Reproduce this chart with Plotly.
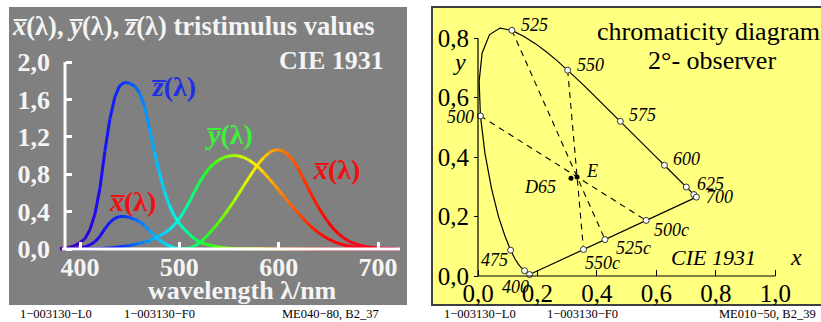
import numpy as np
import plotly.graph_objects as go

W, H = 821, 322
SERIF = "Liberation Serif"

# ---------------- data ----------------
wavelength = list(range(380, 725, 5))
x_bar = [0.001368, 0.002236, 0.004243, 0.007650, 0.014310, 0.023190, 0.043510, 0.077630,
         0.134380, 0.214770, 0.283900, 0.328500, 0.348280, 0.348060, 0.336200, 0.318700,
         0.290800, 0.251100, 0.195360, 0.142100, 0.095640, 0.057950, 0.032010, 0.014700,
         0.004900, 0.002400, 0.009300, 0.029100, 0.063270, 0.109600, 0.165500, 0.225750,
         0.290400, 0.359700, 0.433450, 0.512050, 0.594500, 0.678400, 0.762100, 0.842500,
         0.916300, 0.978600, 1.026300, 1.056700, 1.062200, 1.045600, 1.002600, 0.938400,
         0.854450, 0.751400, 0.642400, 0.541900, 0.447900, 0.360800, 0.283500, 0.218700,
         0.164900, 0.121200, 0.087400, 0.063600, 0.046770, 0.032900, 0.022700, 0.015840,
         0.011359, 0.008111, 0.005790, 0.004109, 0.002899]
y_bar = [0.000039, 0.000064, 0.000120, 0.000217, 0.000396, 0.000640, 0.001210, 0.002180,
         0.004000, 0.007300, 0.011600, 0.016840, 0.023000, 0.029800, 0.038000, 0.048000,
         0.060000, 0.073900, 0.090980, 0.112600, 0.139020, 0.169300, 0.208020, 0.258600,
         0.323000, 0.407300, 0.503000, 0.608200, 0.710000, 0.793200, 0.862000, 0.914850,
         0.954000, 0.980300, 0.994950, 1.000000, 0.995000, 0.978600, 0.952000, 0.915400,
         0.870000, 0.816300, 0.757000, 0.694900, 0.631000, 0.566800, 0.503000, 0.441200,
         0.381000, 0.321000, 0.265000, 0.217000, 0.175000, 0.138200, 0.107000, 0.081600,
         0.061000, 0.044580, 0.032000, 0.023200, 0.017000, 0.011920, 0.008210, 0.005723,
         0.004102, 0.002929, 0.002091, 0.001484, 0.001047]
z_bar = [0.006450, 0.010550, 0.020050, 0.036210, 0.067850, 0.110200, 0.207400, 0.371300,
         0.645600, 1.039050, 1.385600, 1.622960, 1.747060, 1.782600, 1.772110, 1.744100,
         1.669200, 1.528100, 1.287640, 1.041900, 0.812950, 0.616200, 0.465180, 0.353300,
         0.272000, 0.212300, 0.158200, 0.111700, 0.078250, 0.057250, 0.042160, 0.029840,
         0.020300, 0.013400, 0.008750, 0.005750, 0.003900, 0.002750, 0.002100, 0.001800,
         0.001650, 0.001400, 0.001100, 0.001000, 0.000800, 0.000600, 0.000340, 0.000240,
         0.000190, 0.000100, 0.000050, 0.000030, 0.000020, 0.000010, 0.0, 0.0,
         0.0, 0.0, 0.0, 0.0, 0.0, 0.0, 0.0, 0.0,
         0.0, 0.0, 0.0, 0.0, 0.0]

wl_ticks = [400, 500, 600, 700]
wl_ticklabels = ["400", "500", "600", "700"]
val_ticks = [0.0, 0.4, 0.8, 1.2, 1.6, 2.0]
val_ticklabels = ["0,0", "0,4", "0,8", "1,2", "1,6", "2,0"]
cx_ticks = [0.0, 0.2, 0.4, 0.6, 0.8, 1.0]
cx_ticklabels = ["0,0", "0,2", "0,4", "0,6", "0,8", "1,0"]
cy_ticks = [0.0, 0.2, 0.4, 0.6, 0.8]
cy_ticklabels = ["0,0", "0,2", "0,4", "0,6", "0,8"]

marked_wl = [400, 450, 475, 500, 525, 550, 575, 600, 625, 650, 700]
labelled_wl = [400, 475, 500, 525, 550, 575, 600, 625, 700]
complementary_wl = [500, 525, 550]
purple_ends = [400, 700]
white_E = [1 / 3, 1 / 3]
white_D65 = [0.3127, 0.3290]

footer_left = ["1\u2212003130\u2212L0", "1\u2212003130\u2212F0", "ME040\u221280, B2_37"]
footer_right = ["1\u2212003130\u2212L0", "1\u2212003130\u2212F0", "ME010\u221250, B2_39"]

# ---------------- layout geometry (pixels) ----------------
LP = dict(x0=9, x1=407, y0=7, y1=305)      # grey panel
RP = dict(x0=432, x1=821, y0=7, y1=305)    # yellow panel
L_XPX, L_XVAL, L_XPPU = 80, 400, 298 / 300  # 400 nm at px 80
L_YPX, L_YPPU = 249, 93.5                  # value 0 at px 249
R_XPX, R_YPX, R_PPU = 478, 276, 297.3      # (0,0) at px (478,276)

def px_x(p):
    return p / W

def px_y(p):
    return 1 - p / H

xr_left = [L_XVAL + (LP["x0"] - L_XPX) / L_XPPU, L_XVAL + (LP["x1"] - L_XPX) / L_XPPU]
yr_left = [(L_YPX - LP["y1"]) / L_YPPU, (L_YPX - LP["y0"]) / L_YPPU]
xr_right = [(RP["x0"] - R_XPX) / R_PPU, (RP["x1"] - R_XPX) / R_PPU]
yr_right = [(R_YPX - RP["y1"]) / R_PPU, (R_YPX - RP["y0"]) / R_PPU]

def wl_at_px(p):
    return L_XVAL + (p - L_XPX) / L_XPPU

# spectral colour map (style)
cm_wl = [380, 400, 420, 440, 460, 480, 495, 510, 530, 555, 575, 590, 605, 630, 650, 700, 720]
cm_r = [80, 50, 30, 10, 0, 0, 0, 0, 40, 160, 255, 255, 255, 255, 255, 255, 255]
cm_g = [0, 0, 10, 40, 120, 200, 245, 255, 255, 255, 245, 180, 120, 40, 0, 0, 0]
cm_b = [170, 210, 245, 255, 255, 255, 240, 140, 20, 0, 0, 0, 0, 0, 0, 40, 70]

def spec_color(w):
    r = int(np.interp(w, cm_wl, cm_r))
    g = int(np.interp(w, cm_wl, cm_g))
    b = int(np.interp(w, cm_wl, cm_b))
    return f"rgb({r},{g},{b})"

fig = go.Figure()

# ---------------- left: colour matching functions ----------------
wl = np.array(wavelength, dtype=float)
for curve in (z_bar, y_bar, x_bar):
    c = np.array(curve)
    for i in range(len(wl) - 1):
        fig.add_trace(go.Scatter(
            x=[wl[i], wl[i + 1]], y=[c[i], c[i + 1]], mode="lines",
            line=dict(color=spec_color((wl[i] + wl[i + 1]) / 2), width=3),
            hoverinfo="skip", showlegend=False, xaxis="x", yaxis="y"))

# ---------------- right: chromaticity diagram ----------------
X = np.array(x_bar); Y = np.array(y_bar); Z = np.array(z_bar)
S = X + Y + Z
cx = X / S
cy = Y / S
locus_mask = wl <= 700
fig.add_trace(go.Scatter(x=cx[locus_mask], y=cy[locus_mask], mode="lines",
                         line=dict(color="black", width=1.2), hoverinfo="skip",
                         showlegend=False, xaxis="x2", yaxis="y2"))
idx = {int(w): i for i, w in enumerate(wavelength)}
pa = np.array([cx[idx[purple_ends[0]]], cy[idx[purple_ends[0]]]])
pb = np.array([cx[idx[purple_ends[1]]], cy[idx[purple_ends[1]]]])
fig.add_trace(go.Scatter(x=[pa[0], pb[0]], y=[pa[1], pb[1]], mode="lines",
                         line=dict(color="black", width=1.2), hoverinfo="skip",
                         showlegend=False, xaxis="x2", yaxis="y2"))

E = np.array(white_E)
comp_pts = []
for w in complementary_wl:
    s = np.array([cx[idx[w]], cy[idx[w]]])
    d = E - s
    M = np.array([[d[0], -(pb - pa)[0]], [d[1], -(pb - pa)[1]]])
    t, u = np.linalg.solve(M, pa - s)
    q = s + t * d
    comp_pts.append(q)
    fig.add_trace(go.Scatter(x=[s[0], q[0]], y=[s[1], q[1]], mode="lines",
                             line=dict(color="black", width=1.1, dash="6px,5px"),
                             hoverinfo="skip", showlegend=False, xaxis="x2", yaxis="y2"))

mk_x = [cx[idx[w]] for w in marked_wl] + [q[0] for q in comp_pts]
mk_y = [cy[idx[w]] for w in marked_wl] + [q[1] for q in comp_pts]
fig.add_trace(go.Scatter(x=mk_x, y=mk_y, mode="markers",
                         marker=dict(size=6, color="white", line=dict(color="#333333", width=1)),
                         hoverinfo="skip", showlegend=False, xaxis="x2", yaxis="y2"))
fig.add_trace(go.Scatter(x=[white_E[0], white_D65[0]], y=[white_E[1], white_D65[1]], mode="markers",
                         marker=dict(size=5, color="black"),
                         hoverinfo="skip", showlegend=False, xaxis="x2", yaxis="y2"))

# ---------------- shapes ----------------
shapes = [
    dict(type="rect", xref="paper", yref="paper", x0=px_x(LP["x0"]), x1=px_x(LP["x1"]),
         y0=px_y(LP["y1"]), y1=px_y(LP["y0"]), fillcolor="#808080", line=dict(width=0), layer="below"),
    dict(type="rect", xref="paper", yref="paper", x0=px_x(RP["x0"]), x1=1.02,
         y0=px_y(RP["y1"]), y1=px_y(RP["y0"]), fillcolor="#ffff80",
         line=dict(color="#404040", width=2), layer="below"),
    dict(type="line", xref="x", yref="y", x0=wl_at_px(62), x1=wl_at_px(400), y0=0, y1=0,
         line=dict(color="white", width=3), layer="above"),
    dict(type="line", xref="x", yref="y", x0=wl_at_px(65), x1=wl_at_px(65), y0=0, y1=val_ticks[-1],
         line=dict(color="white", width=3), layer="above"),
    dict(type="line", xref="x2", yref="y2", x0=cx_ticks[0], x1=cx_ticks[-1], y0=0, y1=0,
         line=dict(color="black", width=1.2)),
    dict(type="line", xref="x2", yref="y2", x0=0, x1=0, y0=cy_ticks[0], y1=cy_ticks[-1],
         line=dict(color="black", width=1.2)),
]

# ---------------- annotations ----------------
ann = []

def txt(text, x, y, size, color="black", xanchor="center", yanchor="middle", bold=False,
        italic=False, xref="paper", yref="paper", xshift=0, yshift=0):
    ann.append(dict(text=text, x=x, y=y, xref=xref, yref=yref, xanchor=xanchor, yanchor=yanchor,
                    showarrow=False, xshift=xshift, yshift=yshift,
                    font=dict(family=SERIF, size=size, color=color,
                              weight="bold" if bold else "normal",
                              style="italic" if italic else "normal")))

OV = "\u0305"
WH = "#f4f4f4"
txt(f"<i>x{OV}</i>(λ), <i>y{OV}</i>(λ), <i>z{OV}</i>(λ) tristimulus values",
    px_x(10), px_y(26), 26.5, WH, xanchor="left", bold=True)
txt("CIE 1931", px_x(386), px_y(61), 26, WH, xanchor="right", bold=True)
txt("wavelength λ/nm", px_x(242), px_y(290), 26, WH, bold=True)

def lab(text, cxp, cyp, color):
    txt(text, wl_at_px(cxp), (L_YPX - cyp) / L_YPPU, 28, color, bold=True, xref="x", yref="y")

lab(f"<i>z{OV}</i>(λ)", 173, 86, "#1f2fe6")
lab(f"<i>y{OV}</i>(λ)", 229, 134, "#3cf03c")
lab(f"<i>x{OV}</i>(λ)", 132, 201, "#f01010")
lab(f"<i>x{OV}</i>(λ)", 336, 169, "#f01010")

txt("chromaticity diagram", px_x(708), px_y(31), 26)
txt("2°- observer", px_x(712), px_y(60), 26)

label_offsets = {400: ("right", 1, -12), 475: ("right", -1, -10), 500: ("right", -4, -1),
                 525: ("left", 7, 5), 550: ("left", 7, 5), 575: ("left", 7, 6),
                 600: ("left", 7, 6), 625: ("left", 9, 3), 700: ("left", 8, 0)}
for w in labelled_wl:
    xa, dx, dy = label_offsets[w]
    txt(str(w), cx[idx[w]], cy[idx[w]], 18, xanchor=xa, italic=True, xref="x2", yref="y2",
        xshift=dx, yshift=dy)
comp_offsets = [("left", 6, -10), ("left", 9, -8), ("left", -1, -13)]
for w, q, (xa, dx, dy) in zip(complementary_wl, comp_pts, comp_offsets):
    txt(f"{w}c", q[0], q[1], 18, xanchor=xa, italic=True, xref="x2", yref="y2",
        xshift=dx, yshift=dy)
txt("E", white_E[0], white_E[1], 18, xanchor="left", italic=True, xref="x2", yref="y2",
    xshift=7, yshift=6)
txt("D65", white_D65[0], white_D65[1], 18, xanchor="right", italic=True, xref="x2", yref="y2",
    xshift=-13, yshift=-9)
txt("CIE 1931", px_x(713), px_y(257), 22, italic=True)
txt("x", px_x(796), px_y(257), 24, italic=True)
txt("y", px_x(459), px_y(62), 24, italic=True)

for s, xp in zip(footer_left, [18, 122, 280]):
    txt(s, px_x(xp), px_y(314), 12.5, xanchor="left")
for s, xp in zip(footer_right, [442, 545, 717]):
    txt(s, px_x(xp), px_y(314), 12.5, xanchor="left")

# ---------------- axes ----------------
lfont = dict(family=SERIF, size=26, color=WH, weight="bold")
rfont = dict(family=SERIF, size=25, color="black")
fig.update_layout(
    width=W, height=H, margin=dict(l=0, r=0, t=0, b=0),
    paper_bgcolor="white", plot_bgcolor="rgba(0,0,0,0)",
    xaxis=dict(domain=[px_x(LP["x0"]), px_x(LP["x1"])], range=xr_left, anchor="free",
               position=px_y(L_YPX), tickvals=wl_ticks, ticktext=wl_ticklabels,
               ticks="inside", ticklen=7, tickwidth=3, tickcolor="white",
               showgrid=False, zeroline=False, showline=False, tickfont=lfont,
               ticklabelstandoff=0, fixedrange=True),
    yaxis=dict(domain=[px_y(LP["y1"]), px_y(LP["y0"])], range=yr_left, anchor="free",
               position=px_x(65), tickvals=val_ticks, ticktext=val_ticklabels,
               ticks="inside", ticklen=6, tickwidth=3, tickcolor="white",
               showgrid=False, zeroline=False, showline=False, tickfont=lfont,
               ticklabelstandoff=15, fixedrange=True),
    xaxis2=dict(domain=[px_x(RP["x0"]), 1.0], range=xr_right, anchor="free",
                position=px_y(R_YPX), tickvals=cx_ticks, ticktext=cx_ticklabels,
                ticks="inside", ticklen=6, tickwidth=1, tickcolor="black",
                showgrid=False, zeroline=False, showline=False, tickfont=rfont,
                ticklabelstandoff=0, fixedrange=True),
    yaxis2=dict(domain=[px_y(RP["y1"]), px_y(RP["y0"])], range=yr_right, anchor="free",
                position=px_x(R_XPX), tickvals=cy_ticks, ticktext=cy_ticklabels,
                ticks="outside", ticklen=4, tickwidth=1, tickcolor="black",
                showgrid=False, zeroline=False, showline=False, tickfont=rfont,
                ticklabelstandoff=0, fixedrange=True),
    shapes=shapes, annotations=ann,
)

fig.write_html("out.html", config={"displayModeBar": False},
               post_script="document.body.style.margin='0px';")
